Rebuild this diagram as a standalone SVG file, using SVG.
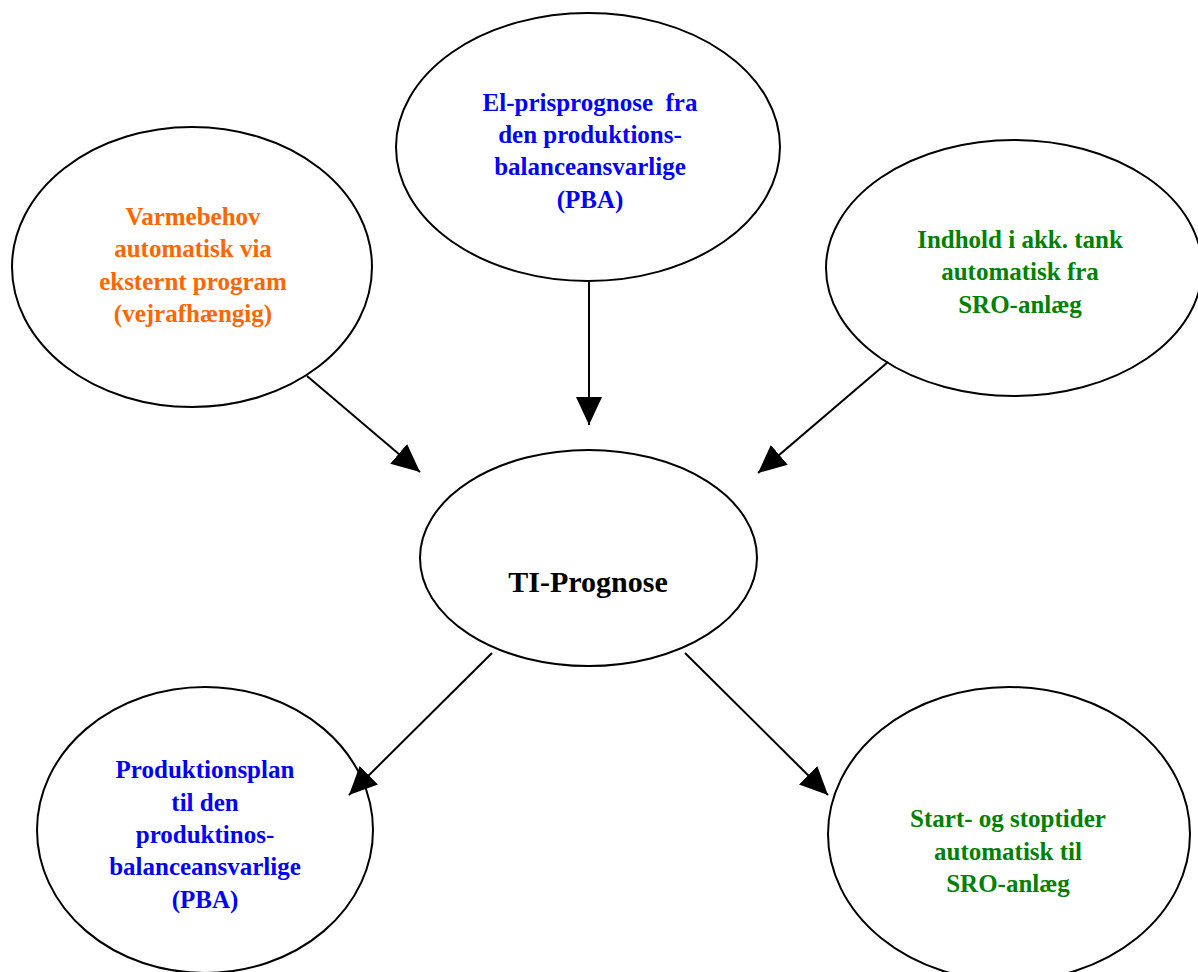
<svg xmlns="http://www.w3.org/2000/svg" width="1198" height="972" viewBox="0 0 1198 972">
<style>
.n{fill:#fff;stroke:#000;stroke-width:2}
.t{font-family:"Liberation Serif","Times New Roman",serif;font-weight:bold;font-size:25px;text-anchor:middle}
.o{fill:#ff6600}.b{fill:#0000ff}.g{fill:#008000}.k{fill:#000}
.e{stroke:#000;stroke-width:2;fill:none;marker-end:url(#ah)}
</style>
<defs>
<marker id="ah" markerUnits="userSpaceOnUse" markerWidth="30" markerHeight="28" refX="28" refY="13" orient="auto">
<path d="M0,0 L28,13 L0,26 z" fill="#000"/>
</marker>
</defs>
<rect width="1198" height="972" fill="#fff"/>
<g id="varmebehov">
<ellipse class="n" cx="192" cy="267" rx="180" ry="140"/>
<text class="t o" x="193" y="225">Varmebehov</text>
<text class="t o" x="193" y="257">automatisk via</text>
<text class="t o" x="193" y="290">eksternt program</text>
<text class="t o" x="193" y="322">(vejrafhængig)</text>
</g>
<g id="elpris">
<ellipse class="n" cx="588" cy="147" rx="192" ry="134"/>
<text class="t b" x="590" y="111" xml:space="preserve">El-prisprognose  fra</text>
<text class="t b" x="590" y="143">den produktions-</text>
<text class="t b" x="590" y="175">balanceansvarlige</text>
<text class="t b" x="590" y="208">(PBA)</text>
</g>
<g id="indhold">
<ellipse class="n" cx="1014" cy="268" rx="188" ry="128"/>
<text class="t g" x="1020" y="248">Indhold i akk. tank</text>
<text class="t g" x="1020" y="280">automatisk fra</text>
<text class="t g" x="1020" y="313">SRO-anlæg</text>
</g>
<g id="ti">
<ellipse class="n" cx="588.5" cy="558" rx="168.5" ry="108"/>
<text class="t k" x="588" y="592" style="font-size:30px">TI-Prognose</text>
</g>
<g id="produktionsplan">
<ellipse class="n" cx="205" cy="830" rx="168" ry="143"/>
<text class="t b" x="205" y="778">Produktionsplan</text>
<text class="t b" x="205" y="811">til den</text>
<text class="t b" x="205" y="843">produktinos-</text>
<text class="t b" x="205" y="875">balanceansvarlige</text>
<text class="t b" x="205" y="908">(PBA)</text>
</g>
<g id="startstop">
<ellipse class="n" cx="1009" cy="834" rx="181" ry="147"/>
<text class="t g" x="1008" y="827">Start- og stoptider</text>
<text class="t g" x="1008" y="860">automatisk til</text>
<text class="t g" x="1008" y="892">SRO-anlæg</text>
</g>
<g id="connectors">
<line class="e" x1="307" y1="376" x2="420" y2="472"/>
<line class="e" x1="589" y1="282" x2="589" y2="425"/>
<line class="e" x1="888" y1="362" x2="758" y2="473"/>
<line class="e" x1="492" y1="653" x2="349" y2="795"/>
<line class="e" x1="685" y1="653" x2="828" y2="795"/>
</g>
</svg>
